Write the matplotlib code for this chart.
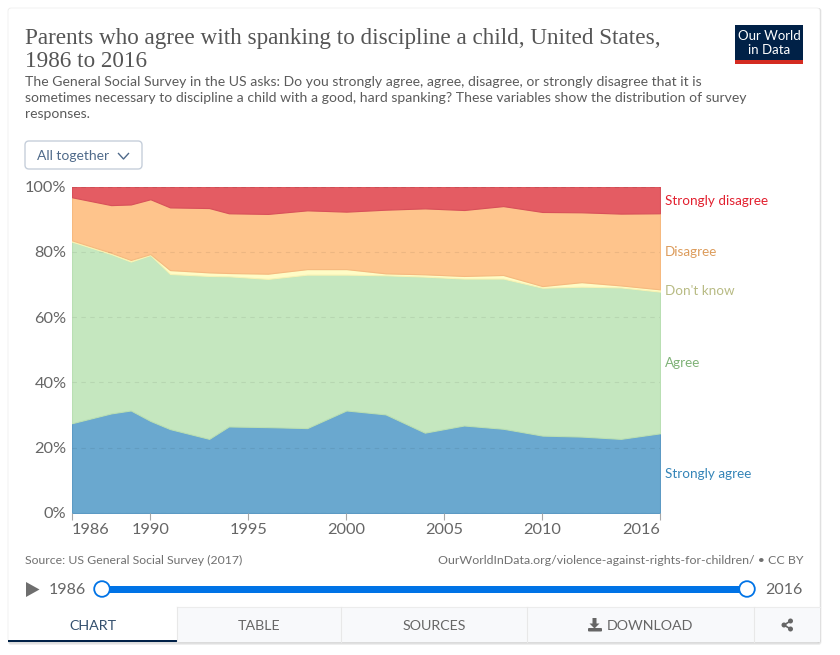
import matplotlib
matplotlib.use('Agg')
import matplotlib.pyplot as plt
from matplotlib.patches import Rectangle, FancyBboxPatch, Circle, Polygon
import numpy as np

plt.rcParams['font.family'] = ['Lato', 'DejaVu Sans']

# data
years = [1986, 1988, 1989, 1990, 1991, 1993, 1994, 1996, 1998, 2000,
         2002, 2004, 2006, 2008, 2010, 2012, 2014, 2016]
strongly_agree = [27.5, 30.5, 31.4, 28.2, 25.7, 22.7, 26.5, 26.3, 26.0, 31.4,
                  30.2, 24.6, 26.8, 25.8, 23.7, 23.4, 22.7, 24.4]
agree = [55.6, 48.8, 45.6, 50.8, 47.5, 49.9, 46.0, 45.4, 47.0, 41.6,
         42.6, 47.8, 45.0, 46.0, 45.3, 45.9, 46.4, 43.4]
dont_know = [0.4, 0.4, 0.5, 0.3, 1.2, 1.1, 1.0, 1.6, 1.7, 1.7,
             0.6, 0.7, 0.8, 1.1, 0.5, 1.4, 0.6, 0.7]
disagree = [13.2, 14.6, 17.0, 16.8, 19.2, 19.7, 18.3, 18.3, 18.0, 17.6,
            19.5, 20.2, 20.2, 21.1, 22.7, 21.4, 22.0, 23.3]
strongly_disagree = [3.3, 5.7, 5.5, 3.9, 6.4, 6.6, 8.2, 8.4, 7.3, 7.7,
                     7.1, 6.7, 7.2, 6.0, 7.8, 7.9, 8.3, 8.2]

series = [strongly_agree, agree, dont_know, disagree, strongly_disagree]
names = ['Strongly agree', 'Agree', "Don't know", 'Disagree', 'Strongly disagree']
fills = ['#6aa8cf', '#c5e7bf', '#fffcc6', '#fec48c', '#e45c63']
edges = ['#5c9ac4', '#b9dfb3', '#f7f3b4', '#f6b97f', '#d9505a']
label_colors = ['#3585b8', '#7fb277', '#b8bb84', '#dc9c5c', '#e2202f']

x_ticks = [1986, 1990, 1995, 2000, 2005, 2010, 2016]
y_ticks = [0, 20, 40, 60, 80, 100]

title = 'Parents who agree with spanking to discipline a child, United States,\n1986 to 2016'
subtitle = ('The General Social Survey in the US asks: Do you strongly agree, agree, disagree, or strongly disagree that it is\n'
            'sometimes necessary to discipline a child with a good, hard spanking? These variables show the distribution of survey\n'
            'responses.')

W, H = 840, 655
fig = plt.figure(figsize=(W / 100, H / 100), dpi=100, facecolor='white')

# page layer in pixel coordinates, for everything around the chart
bg = fig.add_axes([0, 0, 1, 1])
bg.set_xlim(0, W)
bg.set_ylim(H, 0)
bg.axis('off')

# card with soft shadow
for off, col in [(3, '#eeeeee'), (2, '#e0e0e0'), (1, '#cccccc')]:
    bg.add_patch(FancyBboxPatch((8, 8), 812 + off * 0.5, 634 + off,
                                boxstyle='round,pad=0,rounding_size=3', fc=col, ec='none'))
bg.add_patch(FancyBboxPatch((8, 8), 812, 634, boxstyle='round,pad=0,rounding_size=3',
                            fc='white', ec='#f0f0f0', lw=0.6))

bg.text(25, 50, title, family='Liberation Serif', fontsize=16.7, color='#555555',
        va='center', linespacing=1.08)
bg.text(25, 98, subtitle, fontsize=10.05, color='#5b5b5b', va='center', linespacing=1.43)

# logo
bg.add_patch(Rectangle((735, 25), 68, 39, fc='#002147', ec='none'))
bg.add_patch(Rectangle((735, 60), 68, 4, fc='#d42b21', ec='none'))
bg.text(769, 35.5, 'Our World', color='white', fontsize=9.5, ha='center', va='center')
bg.text(769, 50.5, 'in Data', color='white', fontsize=9.5, ha='center', va='center')

# dropdown
bg.add_patch(FancyBboxPatch((25, 141), 117, 28, boxstyle='round,pad=0,rounding_size=4',
                            fc='white', ec='#c6cfdb', lw=1))
bg.text(37, 155.5, 'All together', color='#4f6a8a', fontsize=10, va='center')
bg.plot([118.5, 123.5, 128.5], [153.5, 159, 153.5], color='#4f6a8a', lw=1)

# chart
ax = fig.add_axes([72 / W, 1 - 513 / H, 588 / W, 326.5 / H])
ax.set_xlim(1986, 2016)
ax.set_ylim(0, 100)
ax.patch.set_alpha(0)
polys = ax.stackplot(years, series, colors=fills, linewidth=0.8, zorder=2)
for poly, edge in zip(polys, edges):
    poly.set_edgecolor(edge)

for spine in ax.spines.values():
    spine.set_visible(False)
ax.set_yticks(y_ticks)
ax.set_yticklabels([f'{t}%' for t in y_ticks], fontsize=11.8, color='#666666')
ax.tick_params(axis='y', length=0, pad=4)
ax.set_xticks(x_ticks)
ax.set_xticklabels([str(t) for t in x_ticks], fontsize=11.8, color='#666666')
ax.tick_params(axis='x', length=5, width=0.8, color='#a8a8a8', pad=2.5)
ax.get_xticklabels()[0].set_ha('left')
ax.get_xticklabels()[-1].set_ha('right')
ax.grid(axis='y', linestyle=(0, (4, 4)), color='#000000', alpha=0.07, linewidth=0.8, zorder=3)
ax.set_axisbelow(False)

# end labels sit in the middle of each band
tops = np.cumsum([s[-1] for s in series])
bottoms = tops - [s[-1] for s in series]
for name, col, lo, hi in zip(names, label_colors, bottoms, tops):
    ax.annotate(name, xy=(2016, (lo + hi) / 2), xytext=(3.6, -0.6), textcoords='offset points',
                color=col, fontsize=9.7, va='center', annotation_clip=False)

# footer
bg.text(25, 560, 'Source: US General Social Survey (2017)', fontsize=8.85, color='#707070', va='center')
bg.text(803, 560, 'OurWorldInData.org/violence-against-rights-for-children/ • CC BY',
        fontsize=8.95, color='#707070', va='center', ha='right')

# timeline
bg.add_patch(Polygon([[26, 582], [39.5, 589.5], [26, 597]], closed=True, fc='#6e6e6e', ec='none'))
bg.text(49, 589.5, '1986', fontsize=11.5, color='#666666', va='center')
bg.text(765, 589.5, '2016', fontsize=11.5, color='#666666', va='center')
bg.add_patch(Rectangle((102, 585.5), 645, 7, fc='#0073e6', ec='none'))
for cx in (102, 747):
    bg.add_patch(Circle((cx, 589), 7.8, fc='white', ec='#0073e6', lw=1.3, zorder=5))

# tabs
tab_edges = [8, 177, 341, 527, 754, 820]
bg.add_patch(Rectangle((177, 607), 643, 35, fc='#f8f9fb', ec='none'))
bg.plot([177, 820], [607, 607], color='#ececec', lw=0.8)
for tx in tab_edges[1:-1]:
    bg.plot([tx, tx], [607, 642], color='#e8e8e8', lw=0.8)
bg.add_patch(Rectangle((8, 640), 169, 2, fc='#002147', ec='none'))
tab_color = '#666666'
bg.text(92.5, 625.5, 'CHART', fontsize=10.3, color='#34506e', ha='center', va='center')
bg.text(259, 625.5, 'TABLE', fontsize=10.3, color=tab_color, ha='center', va='center')
bg.text(434, 625.5, 'SOURCES', fontsize=10.3, color=tab_color, ha='center', va='center')
bg.text(649.5, 625.5, 'DOWNLOAD', fontsize=10.3, color=tab_color, ha='center', va='center')

# download icon
bg.add_patch(Polygon([[592.5, 618], [596.5, 618], [596.5, 623.5], [599.5, 623.5], [594.5, 628.5], [589.5, 623.5], [592.5, 623.5]],
                     closed=True, fc=tab_color, ec='none'))
bg.add_patch(FancyBboxPatch((588, 628), 14, 3.5, boxstyle='round,pad=0,rounding_size=1', fc=tab_color, ec='none'))

# share icon
bg.plot([790.5, 784, 790.5], [621, 625, 629], color=tab_color, lw=1.2)
for sx, sy in [(790.5, 621), (784, 625), (790.5, 629)]:
    bg.add_patch(Circle((sx, sy), 2.5, fc=tab_color, ec='none'))

fig.savefig('out.png', dpi=100, facecolor='white')
plt.close(fig)
